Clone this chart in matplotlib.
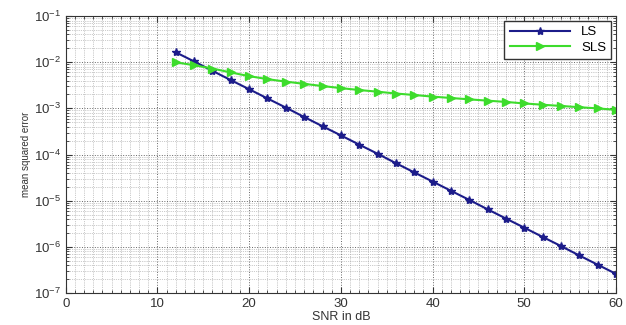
import matplotlib.pyplot as plt
from matplotlib.ticker import LogLocator, MultipleLocator, NullFormatter

snr_db = [12, 14, 16, 18, 20, 22, 24, 26, 28, 30, 32, 34, 36,
          38, 40, 42, 44, 46, 48, 50, 52, 54, 56, 58, 60]
mse_ls = [1.64e-2, 1.04e-2, 6.5e-3, 4.1e-3, 2.6e-3, 1.64e-3, 1.04e-3,
          6.5e-4, 4.1e-4, 2.6e-4, 1.64e-4, 1.04e-4, 6.5e-5, 4.1e-5,
          2.6e-5, 1.64e-5, 1.04e-5, 6.5e-6, 4.1e-6, 2.6e-6, 1.64e-6,
          1.04e-6, 6.5e-7, 4.1e-7, 2.6e-7]
mse_sls = [1.0e-2, 8.6e-3, 7.3e-3, 6.0e-3, 5.0e-3, 4.3e-3, 3.8e-3,
           3.4e-3, 3.05e-3, 2.75e-3, 2.5e-3, 2.3e-3, 2.1e-3, 1.95e-3,
           1.8e-3, 1.68e-3, 1.57e-3, 1.47e-3, 1.38e-3, 1.28e-3, 1.2e-3,
           1.13e-3, 1.06e-3, 1.0e-3, 0.93e-3]

plt.rcParams['font.family'] = ['Liberation Sans', 'DejaVu Sans']

fig = plt.figure(figsize=(6.26, 3.25), dpi=100)
ax = fig.add_axes([0.105, 0.0985, 0.879, 0.852])

ax.semilogy(snr_db, mse_ls, color='#1c1c8a', lw=1.5, marker='*',
            ms=6, mec='#1c1c8a', label='LS')
ax.semilogy(snr_db, mse_sls, color='#3ddc2c', lw=1.5, marker='>',
            ms=5.5, mec='#3ddc2c', label='SLS')

ax.set_xlim(0, 60)
ax.set_ylim(1e-7, 1e-1)
ax.xaxis.set_major_locator(MultipleLocator(10))
ax.xaxis.set_minor_locator(MultipleLocator(1))
ax.yaxis.set_major_locator(LogLocator(base=10, numticks=10))
ax.yaxis.set_minor_locator(LogLocator(base=10, subs=range(2, 10), numticks=10))
ax.yaxis.set_minor_formatter(NullFormatter())

ax.grid(True, which='major', ls=':', color='#666666', lw=0.7)
ax.grid(True, which='minor', ls=':', color='#999999', lw=0.5)
ax.tick_params(which='both', direction='in', top=True, right=True,
               labelsize=9.5, colors='#333333')
ax.tick_params(which='major', length=4)
ax.tick_params(which='minor', length=2)
for s in ax.spines.values():
    s.set_color('#333333')

ax.set_xlabel('SNR in dB', fontsize=9, labelpad=1, color='#333333')
ax.set_ylabel('mean squared error', fontsize=7, labelpad=2, color='#333333')

leg = ax.legend(loc='upper right', fontsize=9.5, fancybox=False,
                framealpha=1, edgecolor='#333333', handlelength=4.6,
                borderaxespad=0.35, labelspacing=0.25)

fig.savefig('out.png')
